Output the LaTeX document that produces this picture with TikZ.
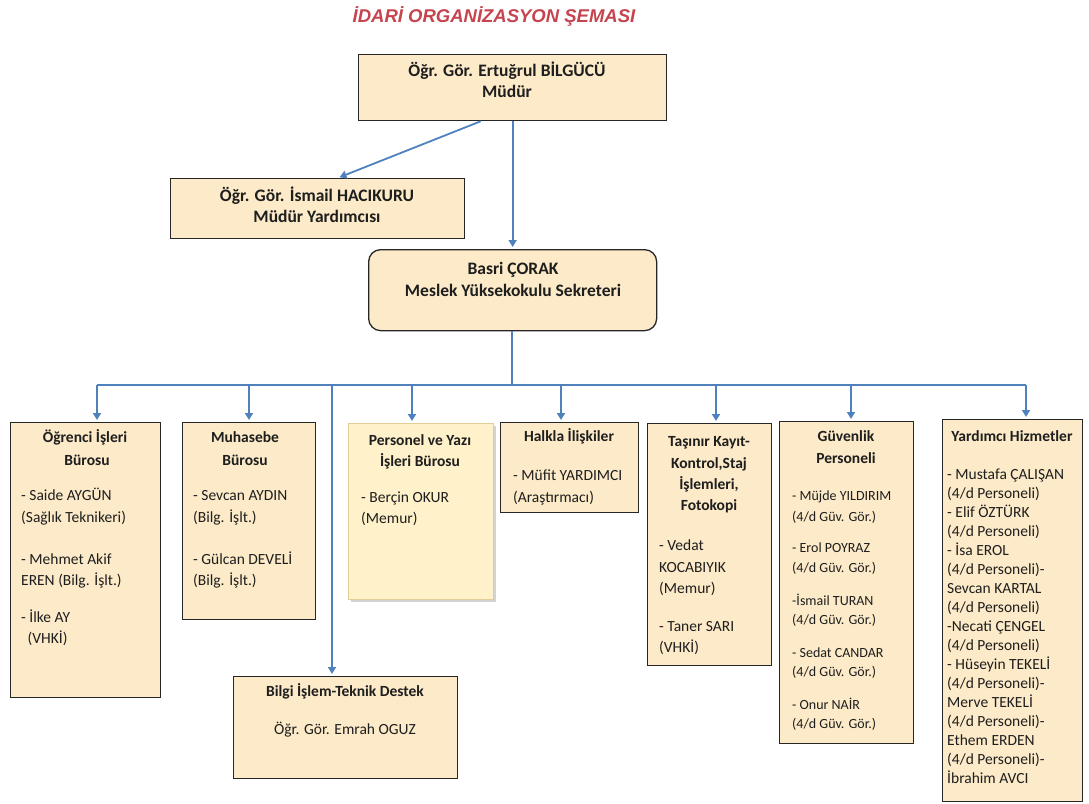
\documentclass[tikz,border=0pt]{standalone}
\usepackage{fontspec}
\setmainfont{Carlito}
\newfontfamily\titlefont{Liberation Sans}
\usetikzlibrary{arrows.meta,shadows,calc}
\definecolor{boxfill}{RGB}{252,234,200}
\definecolor{pfill}{RGB}{255,241,202}
\definecolor{pline}{RGB}{225,205,150}
\definecolor{conn}{RGB}{79,129,189}
\definecolor{ttl}{RGB}{198,68,78}
\definecolor{txt}{RGB}{30,30,30}
\tikzset{
  box/.style={draw=black!85, line width=1.3pt, fill=boxfill, anchor=north west, inner sep=0pt},
  pbox/.style={draw=pline, line width=1pt, fill=pfill, anchor=north west, inner sep=0pt,
     drop shadow={shadow xshift=2pt, shadow yshift=-2pt, opacity=0.35}},
  arr/.style={draw=conn, line width=1.8pt, -{Triangle[width=8pt,length=7pt]}, shorten >=2pt},
  busline/.style={draw=conn, line width=2.4pt},
  tb/.style={font=\fontsize{15.5}{18}\selectfont\bfseries, text=txt, text height=11pt, text depth=3.5pt, inner sep=0pt},
  tbb/.style={font=\fontsize{17.5}{20}\selectfont\bfseries, text=txt, text height=12pt, text depth=4pt, inner sep=0pt},
  tr/.style={font=\fontsize{15.5}{18}\selectfont, text=txt, text height=11pt, text depth=3.5pt, inner sep=0pt, anchor=west},
  ts/.style={font=\fontsize{14}{16}\selectfont, text=txt, text height=10pt, text depth=3pt, inner sep=0pt, anchor=west},
}
\begin{document}
\begin{tikzpicture}[x=1pt,y=-1pt]
\useasboundingbox (0,0) rectangle (1089,803);

% title
\node[font=\titlefont\fontsize{18.5}{22}\selectfont\bfseries\itshape, text=ttl, inner sep=0pt] (title) at (494,16) {İDARİ ORGANİZASYON ŞEMASI};

% boxes
\node[box, minimum width=308pt, minimum height=66pt] (mud) at (358,54) {};
\node[box, minimum width=294pt, minimum height=60pt] (yrd) at (170,178) {};
\node[box, rounded corners=12pt, minimum width=288pt, minimum height=81pt] (sek) at (368,249) {};
\node[box, minimum width=150pt, minimum height=275pt] (ogr) at (10,422) {};
\node[box, minimum width=133pt, minimum height=197pt] (muh) at (182,422) {};
\node[pbox, minimum width=145pt, minimum height=176pt] (per) at (348,423) {};
\node[box, minimum width=138pt, minimum height=90pt] (hlk) at (500,422) {};
\node[box, minimum width=124pt, minimum height=242pt] (tas) at (647,423) {};
\node[box, minimum width=134pt, minimum height=322pt] (guv) at (779,421) {};
\node[box, minimum width=140pt, minimum height=382pt] (yh) at (942,419) {};
\node[box, minimum width=224pt, minimum height=102pt] (bil) at (233,676) {};

% connectors
\draw[arr] ($(mud.south)+(-32,0)$) -- ($(yrd.north)+(20,0)$);
\draw[arr] (mud.south) -- (mud.south |- sek.north);
\coordinate (bj) at (512,385);
\coordinate (bL) at (97,385);
\coordinate (bR) at (1026,385);
\draw[busline] (sek.south -| bj) -- (bj);
\draw[busline] (bL) -- (bR);
\coordinate (d1) at (97,385);
\coordinate (d2) at (249,385);
\coordinate (d3) at (332,385);
\coordinate (d4) at (412,385);
\coordinate (d5) at (561,385);
\coordinate (d6) at (716,385);
\coordinate (d7) at (851,385);
\coordinate (d8) at (1026,385);
\draw[arr] (d1) -- (d1 |- ogr.north);
\draw[arr] (d2) -- (d2 |- muh.north);
\draw[arr] (d3) -- (d3 |- bil.north);
\draw[arr] (d4) -- (d4 |- per.north);
\draw[arr] (d5) -- (d5 |- hlk.north);
\draw[arr] (d6) -- (d6 |- tas.north);
\draw[arr] (d7) -- (d7 |- guv.north);
\draw[arr] (d8) -- (d8 |- yh.north);

% top texts
\node[tbb] (mud1) at (507,72) {Öğr. Gör. Ertuğrul BİLGÜCÜ};
\node[tbb] (mud2) at (507,93) {Müdür};
\node[tbb] (yrd1) at (317,197) {Öğr. Gör. İsmail HACIKURU};
\node[tbb] (yrd2) at (317,218) {Müdür Yardımcısı};
\node[tbb] (sek1) at (513,270) {Basri ÇORAK};
\node[tbb] (sek2) at (513,292) {Meslek Yüksekokulu Sekreteri};

% Ogrenci
\node[tb] (o1) at (85,439) {Öğrenci İşleri};
\node[tb] (o2) at (87,462) {Bürosu};
\node[tr] (o3) at (21,497) {- Saide AYGÜN};
\node[tr] (o4) at (21,519) {(Sağlık Teknikeri)};
\node[tr] (o5) at (21,561) {- Mehmet Akif};
\node[tr] (o6) at (21,582) {EREN (Bilg. İşlt.)};
\node[tr] (o7) at (21,619) {- İlke AY};
\node[tr] (o8) at (24,640) {\ (VHKİ)};

% Muhasebe
\node[tb] (m1) at (245,439) {Muhasebe};
\node[tb] (m2) at (245,462) {Bürosu};
\node[tr] (m3) at (193,497) {- Sevcan AYDIN};
\node[tr] (m4) at (193,519) {(Bilg. İşlt.)};
\node[tr] (m5) at (193,561) {- Gülcan DEVELİ};
\node[tr] (m6) at (193,582) {(Bilg. İşlt.)};

% Personel
\node[tb] (p1) at (420,442) {Personel ve Yazı};
\node[tb] (p2) at (420,463) {İşleri Bürosu};
\node[tr] (p3) at (361,499) {- Berçin OKUR};
\node[tr] (p4) at (361,520) {(Memur)};

% Halkla
\node[tb] (h1) at (569,438) {Halkla İlişkiler};
\node[tr] (h2) at (513,477) {- Müfit YARDIMCI};
\node[tr] (h3) at (513,499) {(Araştırmacı)};

% Tasinir
\node[tb] (t1) at (709,443) {Taşınır Kayıt-};
\node[tb] (t2) at (709,465) {Kontrol,Staj};
\node[tb] (t3) at (709,486) {İşlemleri,};
\node[tb] (t4) at (709,507) {Fotokopi};
\node[tr] (t5) at (659,547) {- Vedat};
\node[tr] (t6) at (659,569) {KOCABIYIK};
\node[tr] (t7) at (659,590) {(Memur)};
\node[tr] (t8) at (659,628) {- Taner SARI};
\node[tr] (t9) at (659,649) {(VHKİ)};

% Guvenlik
\node[tb] (g1) at (846,438) {Güvenlik};
\node[tb] (g2) at (846,460) {Personeli};
\node[ts] (g3) at (792,497) {- Müjde YILDIRIM};
\node[ts] (g4) at (792,518) {(4/d Güv. Gör.)};
\node[ts] (g5) at (792,549) {- Erol POYRAZ};
\node[ts] (g6) at (792,569) {(4/d Güv. Gör.)};
\node[ts] (g7) at (792,602) {-İsmail TURAN};
\node[ts] (g8) at (792,621) {(4/d Güv. Gör.)};
\node[ts] (g9) at (792,654) {- Sedat CANDAR};
\node[ts] (g10) at (792,673) {(4/d Güv. Gör.)};
\node[ts] (g11) at (792,706) {- Onur NAİR};
\node[ts] (g12) at (792,725) {(4/d Güv. Gör.)};

% Yardimci Hizmetler
\node[tb] (y0) at (1012,438) {Yardımcı Hizmetler};
\node[tr] (y1) at (947,476) {- Mustafa ÇALIŞAN};
\node[tr] (y2) at (947,495) {(4/d Personeli)};
\node[tr] (y3) at (947,514) {- Elif ÖZTÜRK};
\node[tr] (y4) at (947,533) {(4/d Personeli)};
\node[tr] (y5) at (947,552) {- İsa EROL};
\node[tr] (y6) at (947,571) {(4/d Personeli)-};
\node[tr] (y7) at (947,590) {Sevcan KARTAL};
\node[tr] (y8) at (947,609) {(4/d Personeli)};
\node[tr] (y9) at (947,628) {-Necati ÇENGEL};
\node[tr] (y10) at (947,647) {(4/d Personeli)};
\node[tr] (y11) at (947,666) {- Hüseyin TEKELİ};
\node[tr] (y12) at (947,685) {(4/d Personeli)-};
\node[tr] (y13) at (947,704) {Merve TEKELİ};
\node[tr] (y14) at (947,723) {(4/d Personeli)-};
\node[tr] (y15) at (947,742) {Ethem ERDEN};
\node[tr] (y16) at (947,761) {(4/d Personeli)-};
\node[tr] (y17) at (947,780) {İbrahim AVCI};

% Bilgi Islem
\node[tb] (b1) at (345,693) {Bilgi İşlem-Teknik Destek};
\node[tr, anchor=center] (b2) at (345,731) {Öğr. Gör. Emrah OGUZ};
\end{tikzpicture}
\end{document}
